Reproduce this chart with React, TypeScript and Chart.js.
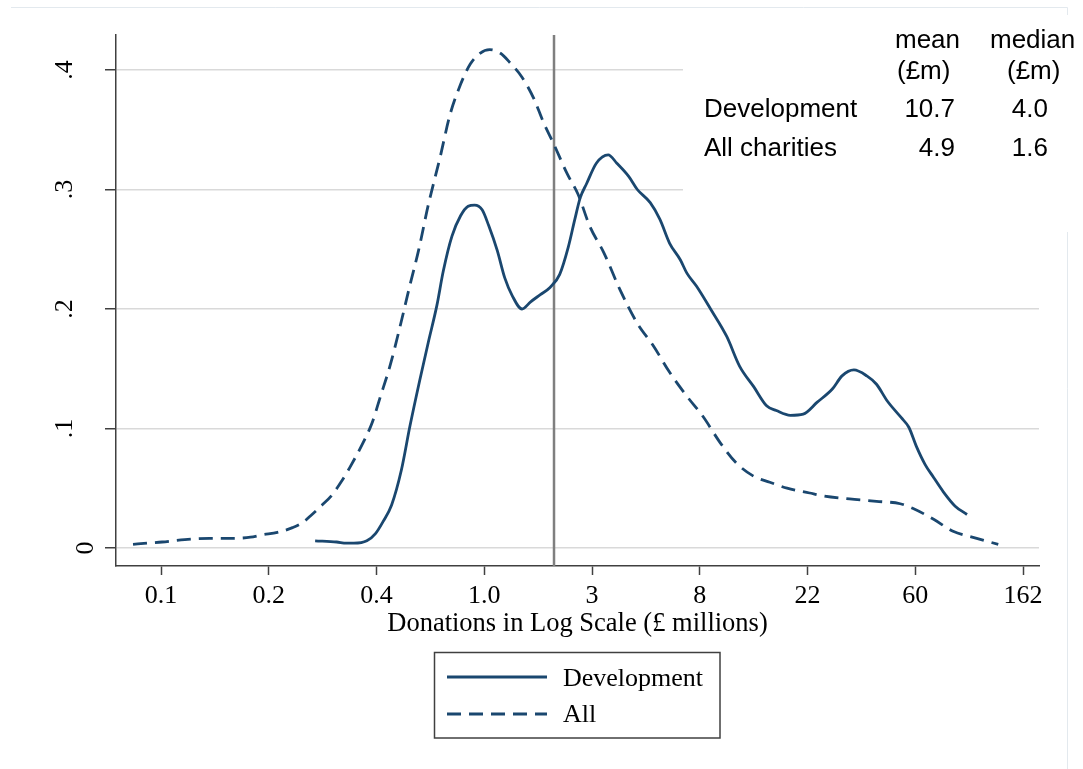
import React, { useEffect, useRef } from "react";
import { Chart, registerables } from "chart.js";

Chart.register(...registerables);

// x values are positions on the log-donation scale (ticks every unit)
const xTickValues = [4, 5, 6, 7, 8, 9, 10, 11, 12];
const xTickLabels = ["0.1", "0.2", "0.4", "1.0", "3", "8", "22", "60", "162"];
const yTickValues = [0, 0.1, 0.2, 0.3, 0.4];
const yTickLabels = ["0", ".1", ".2", ".3", ".4"];

const devX = [5.43, 5.63, 5.72, 5.79, 5.91, 5.99, 6.06, 6.14, 6.23, 6.31, 6.4, 6.48, 6.56, 6.62, 6.7, 6.78, 6.85, 6.91, 6.98, 7.04, 7.12, 7.19, 7.26, 7.35, 7.43, 7.52, 7.61, 7.7, 7.78, 7.84, 7.89, 7.95, 8.04, 8.15, 8.23, 8.34, 8.42, 8.54, 8.63, 8.72, 8.82, 8.88, 8.97, 9.1, 9.25, 9.37, 9.5, 9.62, 9.71, 9.84, 9.96, 10.09, 10.23, 10.32, 10.43, 10.55, 10.64, 10.74, 10.87, 10.94, 11.01, 11.09, 11.17, 11.26, 11.37, 11.48];
const devY = [0.006, 0.005, 0.004, 0.004, 0.006, 0.012, 0.022, 0.036, 0.065, 0.102, 0.14, 0.172, 0.203, 0.232, 0.261, 0.278, 0.286, 0.287, 0.283, 0.27, 0.249, 0.226, 0.211, 0.2, 0.206, 0.212, 0.218, 0.229, 0.252, 0.275, 0.293, 0.305, 0.322, 0.329, 0.322, 0.311, 0.3, 0.289, 0.275, 0.255, 0.241, 0.23, 0.219, 0.2, 0.177, 0.152, 0.135, 0.119, 0.115, 0.111, 0.112, 0.122, 0.133, 0.144, 0.149, 0.144, 0.137, 0.123, 0.109, 0.101, 0.085, 0.07, 0.059, 0.047, 0.035, 0.028];

const allX = [3.74, 3.87, 4.01, 4.22, 4.45, 4.66, 4.83, 4.94, 5.08, 5.22, 5.32, 5.38, 5.49, 5.59, 5.68, 5.75, 5.88, 5.96, 6.03, 6.13, 6.22, 6.31, 6.39, 6.48, 6.59, 6.68, 6.78, 6.87, 6.96, 7.05, 7.15, 7.24, 7.35, 7.46, 7.55, 7.64, 7.77, 7.87, 7.98, 8.11, 8.26, 8.42, 8.57, 8.72, 8.88, 9.03, 9.19, 9.34, 9.5, 9.65, 9.81, 10.02, 10.12, 10.39, 10.64, 10.86, 10.98, 11.17, 11.35, 11.57, 11.77];
const allY = [0.003, 0.004, 0.005, 0.007, 0.008, 0.008, 0.009, 0.011, 0.013, 0.017, 0.0215, 0.0263, 0.0355, 0.0447, 0.0565, 0.067, 0.089, 0.105, 0.125, 0.154, 0.186, 0.22, 0.249, 0.287, 0.327, 0.362, 0.388, 0.405, 0.414, 0.417, 0.414, 0.406, 0.394, 0.376, 0.356, 0.339, 0.313, 0.296, 0.269, 0.247, 0.216, 0.188, 0.169, 0.147, 0.127, 0.11, 0.088, 0.071, 0.06, 0.055, 0.05, 0.046, 0.044, 0.041, 0.039, 0.037, 0.033, 0.024, 0.014, 0.008, 0.003];

const cutoffX = 7.647;

const seriesNames = ["Development", "All"];
const tableHeads = ["mean", "median"];
const tableUnits = ["(£m)", "(£m)"];
const tableRows = ["Development", "All charities"];
const tableMeans = ["10.7", "4.9"];
const tableMedians = ["4.0", "1.6"];
const xTitle = "Donations in Log Scale (£ millions)";

const NAVY = "#1a476f";
const SERIF = "'Liberation Serif', 'Times New Roman', serif";
const SANS = "'Liberation Sans', Arial, sans-serif";

const decorPlugin = {
  id: "decor",
  beforeDraw(chart: any) {
    const ctx = chart.ctx;
    ctx.save();
    ctx.fillStyle = "#ffffff";
    ctx.fillRect(0, 0, chart.width, chart.height);
    ctx.strokeStyle = "#e3e9ee";
    ctx.lineWidth = 1;
    ctx.beginPath();
    ctx.moveTo(11, 7.5);
    ctx.lineTo(1067.5, 7.5);
    ctx.lineTo(1067.5, chart.height);
    ctx.stroke();
    ctx.restore();
  },
  beforeDatasetsDraw(chart: any) {
    const ctx = chart.ctx;
    const area = chart.chartArea;
    ctx.save();
    // table box
    ctx.fillStyle = "#ffffff";
    ctx.fillRect(683, 15, 400, 217);
    ctx.fillStyle = "#000000";
    ctx.font = `26px ${SANS}`;
    ctx.textBaseline = "middle";
    ctx.textAlign = "left";
    ctx.fillText(tableHeads[0], 895, 41);
    ctx.fillText(tableHeads[1], 990, 41);
    ctx.fillText(tableUnits[0], 897, 72);
    ctx.fillText(tableUnits[1], 1007, 72);
    tableRows.forEach((r, i) => {
      const y = 110 + i * 39;
      ctx.textAlign = "left";
      ctx.fillText(r, 704, y);
      ctx.textAlign = "right";
      ctx.fillText(tableMeans[i], 955, y);
      ctx.fillText(tableMedians[i], 1048, y);
    });
    // vertical reference line
    const px = chart.scales.x.getPixelForValue(cutoffX);
    ctx.strokeStyle = "#7f7f7f";
    ctx.lineWidth = 2.5;
    ctx.beginPath();
    ctx.moveTo(px, area.top);
    ctx.lineTo(px, area.bottom);
    ctx.stroke();
    ctx.restore();
  },
  afterDraw(chart: any) {
    const ctx = chart.ctx;
    const ys = chart.scales.y;
    ctx.save();
    // rotated y tick labels
    ctx.fillStyle = "#000000";
    ctx.font = `26px ${SERIF}`;
    ctx.textAlign = "center";
    ctx.textBaseline = "alphabetic";
    yTickValues.forEach((v, i) => {
      const y = ys.getPixelForValue(v);
      const label = yTickLabels[i];
      const xb = label.startsWith(".") ? 72 : 93;
      ctx.save();
      ctx.translate(xb, y);
      ctx.rotate(-Math.PI / 2);
      ctx.fillText(label, 0, 0);
      ctx.restore();
    });
    // legend box
    ctx.strokeStyle = "#404040";
    ctx.lineWidth = 1.5;
    ctx.strokeRect(434.5, 652.5, 285.5, 85.5);
    ctx.strokeStyle = NAVY;
    ctx.lineWidth = 2.8;
    ctx.beginPath();
    ctx.moveTo(447, 677);
    ctx.lineTo(547, 677);
    ctx.stroke();
    ctx.setLineDash([14, 8]);
    ctx.beginPath();
    ctx.moveTo(447, 714);
    ctx.lineTo(547, 714);
    ctx.stroke();
    ctx.setLineDash([]);
    ctx.fillStyle = "#000000";
    ctx.font = `26px ${SERIF}`;
    ctx.textAlign = "left";
    ctx.textBaseline = "middle";
    ctx.fillText(seriesNames[0], 563, 679);
    ctx.fillText(seriesNames[1], 563, 715);
    ctx.restore();
  },
};

export default function App() {
  const canvasRef = useRef<HTMLCanvasElement | null>(null);

  useEffect(() => {
    const canvas = canvasRef.current;
    if (!canvas) return;
    const chart = new Chart(canvas, {
      type: "line",
      data: {
        datasets: [
          {
            label: seriesNames[0],
            data: devX.map((x, i) => ({ x, y: devY[i] })),
            borderColor: NAVY,
            borderWidth: 2.8,
            pointRadius: 0,
            fill: false,
            cubicInterpolationMode: "monotone",
          },
          {
            label: seriesNames[1],
            data: allX.map((x, i) => ({ x, y: allY[i] })),
            borderColor: NAVY,
            borderWidth: 2.8,
            borderDash: [14, 8],
            pointRadius: 0,
            fill: false,
            cubicInterpolationMode: "monotone",
          },
        ],
      },
      options: {
        animation: false,
        responsive: false,
        devicePixelRatio: 1,
        layout: { padding: { top: 35, right: 44, left: 0, bottom: 0 } },
        plugins: {
          legend: { display: false },
          tooltip: { enabled: false },
        },
        scales: {
          x: {
            type: "linear",
            min: 3.582,
            max: 12.148,
            afterBuildTicks: (scale: any) => {
              scale.ticks = xTickValues.map((v) => ({ value: v }));
            },
            afterFit: (scale: any) => {
              scale.height = 203;
            },
            ticks: {
              autoSkip: false,
              maxRotation: 0,
              minRotation: 0,
              padding: 6,
              color: "#000000",
              font: { family: SERIF, size: 26 },
              callback: (value: any) => {
                const i = xTickValues.indexOf(Number(value));
                return i >= 0 ? xTickLabels[i] : "";
              },
            },
            grid: {
              display: true,
              drawOnChartArea: false,
              drawTicks: true,
              tickLength: 9,
              tickColor: "#404040",
              tickWidth: 1.5,
            },
            border: { display: true, color: "#404040", width: 1.5 },
            title: {
              display: true,
              text: xTitle,
              color: "#000000",
              font: { family: SERIF, size: 26.5 },
              padding: { top: 0, bottom: 129 },
            },
          },
          y: {
            type: "linear",
            min: -0.0151,
            max: 0.4293,
            afterBuildTicks: (scale: any) => {
              scale.ticks = yTickValues.map((v) => ({ value: v }));
            },
            afterFit: (scale: any) => {
              scale.width = 116;
            },
            ticks: { display: false },
            grid: {
              display: true,
              drawOnChartArea: true,
              drawTicks: true,
              tickLength: 11,
              color: "#d9d9d9",
              lineWidth: 1.5,
              tickColor: "#404040",
              tickWidth: 1.5,
            },
            border: { display: true, color: "#404040", width: 1.5 },
          },
        },
      },
      plugins: [decorPlugin],
    } as any);
    return () => chart.destroy();
  }, []);

  return (
    <div style={{ position: "absolute", left: 0, top: 0, width: 1083, height: 769, background: "#fff" }}>
      <canvas ref={canvasRef} width={1083} height={769} style={{ display: "block", width: 1083, height: 769 }} />
    </div>
  );
}
